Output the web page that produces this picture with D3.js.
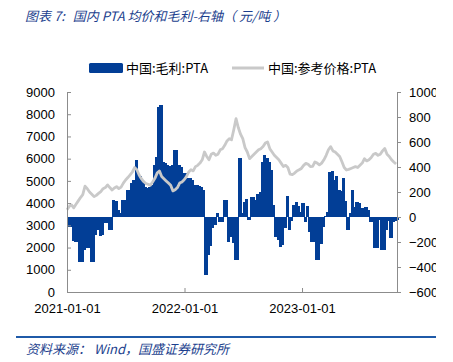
<!DOCTYPE html>
<html>
<head>
<meta charset="utf-8">
<script src="https://cdn.jsdelivr.net/npm/d3@7"></script>
<style>
  body { margin: 0; background: #fff; }
  svg { display: block; font-family: "Liberation Sans", Arial, "Noto Sans CJK SC", sans-serif; }
</style>
</head>
<body>
<div id="chart"></div>
<script>
// 数据：每周一个点，从 2021-01-01 开始
const startDate = new Date(2021, 0, 1);
const seriesNames = ['中国:毛利:PTA', '中国:参考价格:PTA'];

// 毛利（右轴）
const margin = [
  -77, -77, -190, -197, -200, -357, -357, -260, -250, -250,
  -357, -357, -140, -100, -150, -140, -50, -45, -105, -100,
  136, 130, 60, 30, 140, 140, 216, 220, 272, 300,
  456, 340, 330, 280, 240, 230, 240, 260, 416, 480,
  880, 900, 440, 430, 420, 410, 420, 540, 536, 420,
  400, 352, 350, 312, 310, 300, 260, 256, 250, 240,
  216, -464, -300, -230, -90, -60, 32, -40, -40, 136,
  136, -200, -160, -210, -344, -344, 472, 32, 120, 144,
  -24, 160, 160, 140, 184, 200, 440, 500, 470, 440,
  380, 100, -160, -180, -240, -220, -90, 170, -100, -30,
  100, 120, 90, 40, 110, -40, 90, -120, -200, -200,
  -344, -344, -216, -80, 10, 40, 360, 370, 300, 330,
  220, 210, 310, 130, -100, 30, 220, 80, 120, 110,
  70, 70, 80, 60, -40, -40, -250, -250, -20, -264,
  -264, -100, -30, -170, -40, -30, -25
];

// 参考价格（左轴）
const price = [
  3700, 3850, 3920, 3790, 3950, 4100, 4250, 4380, 4760, 4650,
  4500, 4400, 4290, 4350, 4440, 4520, 4650, 4700, 4820, 4700,
  4590, 4680, 4740, 4650, 4720, 4900, 5040, 5150, 5270, 5400,
  5600, 5500, 5265, 5100, 4970, 4880, 4850, 4800, 4950, 5115,
  5350, 5450, 5200, 5100, 5000, 4900, 4800, 4550, 4600, 4700,
  4900, 4950, 5050, 5190, 5400, 5500, 5450, 5640, 5700, 5800,
  5950, 6300, 6100, 5950, 6200, 6250, 6150, 6200, 6400, 6450,
  6600, 6800, 6900, 6850, 7300, 7800, 7400, 7100, 6900, 6500,
  6300, 6000, 6100, 6200, 6300, 6400, 6450, 6550, 6700, 6750,
  6450, 6300, 6150, 6050, 5950, 5800, 5650, 5700, 5600, 5300,
  5280, 5350, 5450, 5500, 5560, 5700, 5790, 5750, 5640, 5650,
  5850, 5800, 5720, 5800, 5950, 6150, 6400, 6540, 6350, 6300,
  6200, 6100, 5860, 5600, 5490, 5520, 5560, 5600, 5640, 5600,
  5700, 5800, 6000, 5900, 5950, 6050, 6200, 6240, 6150, 6200,
  6350, 6460, 6200, 6100, 5950, 5850, 5760
];

const leftTicks = [0, 1000, 2000, 3000, 4000, 5000, 6000, 7000, 8000, 9000];
const rightTicks = [-600, -400, -200, 0, 200, 400, 600, 800, 1000];
const xTicks = [new Date(2021, 0, 1), new Date(2022, 0, 1), new Date(2023, 0, 1)];

const blue = '#023e96';
const gray = '#c9c9c9';
const axisColor = '#8c8c8c';
const textBlue = '#1c3f8e';

const width = 453, height = 362;
const svg = d3.select('#chart').append('svg')
  .attr('width', width)
  .attr('height', height);

// 原图右侧被裁切
svg.append('clipPath').attr('id', 'frame')
  .append('rect').attr('x', 0).attr('y', 0).attr('width', 436).attr('height', height);

// 标题（分段放置，保留原图的间距）
const title = svg.append('text')
  .attr('x', 25).attr('y', 21)
  .attr('font-size', 13)
  .attr('font-style', 'italic')
  .attr('fill', textBlue)
  .attr('font-family', '"Noto Sans CJK SC", sans-serif');
title.append('tspan').text('图表 7:');
title.append('tspan').attr('dx', 8).text('国内 PTA 均价和毛利-右轴（');
title.append('tspan').attr('dx', 3).text('元/吨');
title.append('tspan').attr('dx', 3).text('）');

// 比例尺
const x = d3.scaleTime()
  .domain([startDate, new Date(2023, 9, 23)])
  .range([67, 397]);
const yL = d3.scaleLinear().domain([0, 9000]).range([292, 92]);
const yR = d3.scaleLinear().domain([-600, 1000]).range([292, 92]);

const dateOf = i => d3.timeDay.offset(startDate, 7 * i);

// 毛利柱
svg.append('g')
  .attr('shape-rendering', 'crispEdges')
  .selectAll('rect')
  .data(margin)
  .enter().append('rect')
  .attr('x', (d, i) => x(dateOf(i)))
  .attr('width', (d, i) => x(dateOf(i + 1)) - x(dateOf(i)) + 1)
  .attr('y', d => Math.min(yR(d), yR(0)))
  .attr('height', d => Math.abs(yR(d) - yR(0)))
  .attr('fill', blue);

// 价格线
const line = d3.line()
  .x((d, i) => x(dateOf(i)))
  .y(d => yL(d));
svg.append('path')
  .datum(price)
  .attr('d', line)
  .attr('fill', 'none')
  .attr('stroke', gray)
  .attr('stroke-width', 2.8)
  .attr('stroke-linejoin', 'round');

// 坐标轴
function styleAxis(g) {
  g.selectAll('path, line').attr('stroke', axisColor);
  g.selectAll('text').attr('font-size', 13).attr('fill', '#000');
}

svg.append('g')
  .attr('transform', 'translate(67,0)')
  .call(d3.axisLeft(yL).tickValues(leftTicks).tickSize(-4).tickSizeOuter(0)
    .tickPadding(12).tickFormat(d3.format('d')))
  .call(styleAxis);

svg.append('g')
  .attr('clip-path', 'url(#frame)')
  .append('g')
  .attr('transform', 'translate(397,0)')
  .call(d3.axisRight(yR).tickValues(rightTicks).tickSize(4).tickSizeOuter(0)
    .tickPadding(8).tickFormat(d3.format('d')))
  .call(styleAxis);

svg.append('g')
  .attr('transform', 'translate(0,292)')
  .call(d3.axisBottom(x).tickValues(xTicks).tickSize(-4).tickSizeOuter(0)
    .tickPadding(12).tickFormat(d3.timeFormat('%Y-%m-%d')))
  .call(styleAxis);

// 图例
const legend = svg.append('g').attr('font-size', 13)
  .attr('font-family', '"Noto Sans CJK SC", sans-serif');
legend.append('rect')
  .attr('x', 89).attr('y', 63).attr('width', 34).attr('height', 10)
  .attr('rx', 1.5)
  .attr('fill', blue);
legend.append('text')
  .attr('x', 126).attr('y', 72.5)
  .text(seriesNames[0]);
legend.append('line')
  .attr('x1', 232).attr('x2', 264).attr('y1', 68).attr('y2', 68)
  .attr('stroke', gray).attr('stroke-width', 3);
legend.append('text')
  .attr('x', 268).attr('y', 72.5)
  .text(seriesNames[1]);

// 底部来源
svg.append('line')
  .attr('x1', 16).attr('x2', 436).attr('y1', 337).attr('y2', 337)
  .attr('stroke', '#1f5aa8').attr('stroke-width', 2);
const source = svg.append('text')
  .attr('x', 26).attr('y', 354)
  .attr('font-size', 13)
  .attr('font-style', 'italic')
  .attr('fill', textBlue)
  .attr('font-family', '"Noto Sans CJK SC", sans-serif');
source.append('tspan').text('资料来源：');
source.append('tspan').attr('dx', 3).text('Wind，国盛证券研究所');
</script>
</body>
</html>
